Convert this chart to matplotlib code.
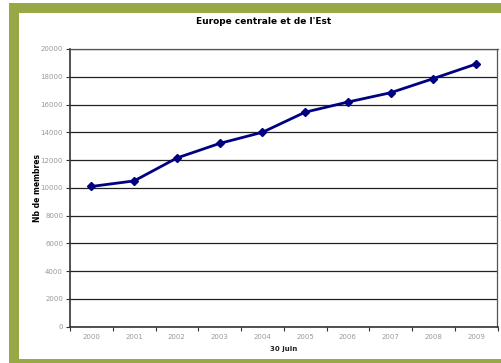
import numpy as np
import matplotlib
matplotlib.use("Agg")
import matplotlib.pyplot as plt
from matplotlib.patches import Rectangle

years = ['2000', '2001', '2002', '2003', '2004', '2005', '2006', '2007', '2008', '2009']
members = [10100, 10500, 12150, 13200, 14000, 15450, 16180, 16850, 17870, 18920]

W, H = 502, 363
fig = plt.figure(figsize=(W / 100, H / 100), dpi=100)
fig.patch.set_facecolor('white')

olive = '#99a846'
# olive frame and white panel, behind the axes
fig.patches.append(Rectangle((9 / W, 0), 1 - 9 / W, 1 - 3 / H, transform=fig.transFigure,
                             facecolor=olive, edgecolor='none', zorder=-2))
fig.patches.append(Rectangle((19 / W, 4.5 / H), 1 - 19 / W, 1 - 17.5 / H, transform=fig.transFigure,
                             facecolor='white', edgecolor='none', zorder=-1))

ax = fig.add_axes([70 / W, (H - 326.7) / H, 427.5 / W, 277.7 / H])
ax.set_facecolor('white')
x = np.arange(len(years))
ax.plot(x, members, color='#000080', lw=2, marker='D', ms=4.5, zorder=3)

ax.set_xlim(-0.5, len(years) - 0.5)
ax.set_ylim(0, 20000)
ax.set_yticks(np.arange(0, 20001, 2000))
ax.yaxis.grid(True, color='#222222', lw=0.9)
ax.set_axisbelow(True)

ax.set_xticks(np.arange(-0.5, len(years), 1))
ax.set_xticklabels([])
ax.set_xticks(x, minor=True)
ax.set_xticklabels(years, minor=True)
ax.tick_params(axis='x', which='major', length=3, direction='out', color='#333333')
ax.tick_params(axis='x', which='minor', length=0, pad=5.5, labelsize=5, labelcolor='#999999')
ax.tick_params(axis='y', length=3, direction='out', color='#333333', labelsize=5,
               labelcolor='#999999', pad=2)

for s in ax.spines.values():
    s.set_color('#555555')
    s.set_linewidth(0.9)
ax.spines['left'].set_color('#333333')
ax.spines['left'].set_linewidth(1.2)
ax.spines['bottom'].set_color('#333333')
ax.spines['bottom'].set_linewidth(1.2)

fig.text(264 / W, 1 - 21 / H, "Europe centrale et de l'Est", ha='center', va='center',
         fontsize=6.5, fontweight='bold')
fig.text(37 / W, 1 - 188 / H, 'Nb de membres', ha='center', va='center', rotation=90,
         fontsize=5.5, fontweight='bold')
fig.text(283.5 / W, 1 - 348.5 / H, '30 juin', ha='center', va='center',
         fontsize=5, fontweight='bold', color='#222222')

fig.savefig('out.png', dpi=100)
